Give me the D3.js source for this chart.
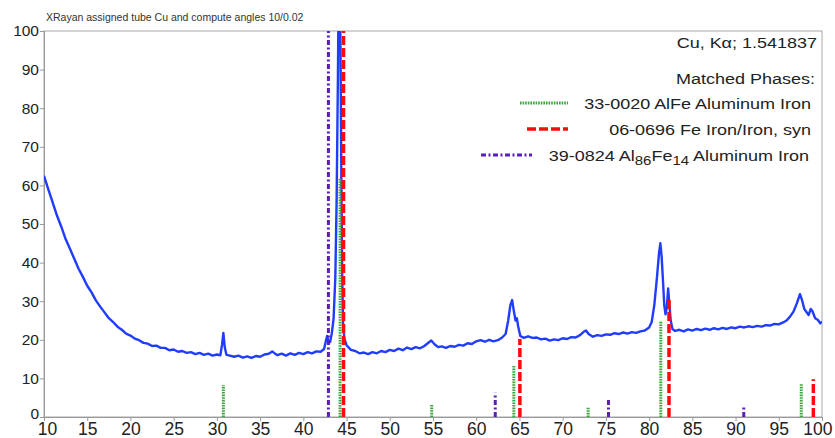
<!DOCTYPE html>
<html>
<head>
<meta charset="utf-8">
<script src="https://cdn.jsdelivr.net/npm/d3@7"></script>
<style>
  body { margin: 0; background: #fff; }
  text { font-family: "Liberation Sans", Arial, sans-serif; }
</style>
</head>
<body>
<svg id="graph" width="835" height="438"></svg>
<script>
// patron medido (2theta, intensidad)
const twoTheta = [10.0,10.5,11.0,11.5,12.0,12.5,13.0,13.5,14.0,14.5,15.0,15.5,16.0,16.5,17.0,17.5,18.0,18.5,19.0,19.5,
  20.0,20.5,21.0,21.5,22.0,22.5,23.0,23.5,24.0,24.5,25.0,25.5,26.0,26.5,27.0,27.5,28.0,28.5,29.0,29.5,
  30.0,30.4,30.6,30.75,30.9,31.1,31.5,32.0,32.5,33.0,33.5,34.0,34.5,35.0,35.5,36.0,36.4,36.8,37.0,37.5,
  38.0,38.5,39.0,39.5,40.0,40.5,41.0,41.5,42.0,42.4,42.6,42.75,42.9,43.1,43.3,43.5,43.7,43.85,44.0,44.1,
  44.2,44.3,44.4,44.5,44.6,44.75,45.0,45.5,46.0,46.5,47.0,47.5,48.0,48.5,49.0,49.5,50.0,50.5,51.0,51.5,
  52.0,52.5,53.0,53.5,54.0,54.5,54.8,55.2,55.6,56.0,56.5,57.0,57.5,58.0,58.5,59.0,59.5,60.0,60.5,61.0,
  61.5,62.0,62.5,63.0,63.4,63.7,63.95,64.15,64.35,64.55,64.7,64.85,65.1,65.5,66.0,66.5,67.0,67.5,68.0,68.5,
  69.0,69.5,70.0,70.5,71.0,71.5,72.0,72.4,72.7,73.0,73.5,74.0,74.5,75.0,75.5,76.0,76.5,77.0,77.5,78.0,
  78.5,79.0,79.5,80.0,80.3,80.6,80.9,81.15,81.3,81.45,81.6,81.75,81.9,82.05,82.2,82.35,82.5,82.7,83.0,83.5,
  84.0,84.5,85.0,85.5,86.0,86.5,87.0,87.5,88.0,88.5,89.0,89.5,90.0,90.5,91.0,91.5,92.0,92.5,93.0,93.5,
  94.0,94.5,95.0,95.5,95.9,96.3,96.7,97.1,97.45,97.7,97.95,98.2,98.45,98.7,98.9,99.2,99.5,99.8,100.0];
const intensity = [62.5,59.0,55.6,52.2,49.3,46.1,43.6,41.0,38.4,36.3,34.0,32.3,30.2,28.6,27.1,25.6,24.6,23.4,22.6,21.6,
  21.1,20.3,19.9,19.2,19.0,18.4,18.5,17.9,17.9,17.3,17.5,16.9,17.1,16.6,16.8,16.3,16.6,16.1,16.4,15.9,
  16.2,16.0,18.8,21.8,18.2,16.1,15.9,15.6,15.9,15.4,15.7,15.3,15.8,15.6,16.2,16.4,17.0,16.3,16.0,16.4,
  15.9,16.5,16.1,16.6,16.3,16.8,16.5,17.0,16.9,17.6,19.6,21.0,19.6,19.4,21.8,25.5,36,56,88,115,
  118,95,62,36,24,20.3,18.6,17.4,17.1,16.5,16.7,16.3,16.8,16.5,17.1,16.8,17.4,17.1,17.7,17.3,
  18.0,17.6,18.1,17.8,18.4,19.3,19.8,18.8,18.1,18.3,17.9,18.4,18.2,18.7,18.5,19.1,18.9,19.6,19.9,19.5,
  20.0,19.6,19.9,20.6,21.5,25,29,30.3,27.5,25.0,25.6,23.5,21.0,20.5,20.9,20.5,20.6,20.1,20.3,19.8,
  20.1,19.9,20.4,20.2,20.7,20.6,21.2,22.0,22.4,21.5,20.8,21.2,21.0,21.4,21.3,21.7,21.5,21.9,21.6,22.0,
  21.8,22.2,22.4,23.2,24.6,29,36,42.5,45.0,41.5,35.5,29,26.6,28.5,33.3,29,25.0,22.8,22.3,22.6,
  22.2,22.7,22.4,22.8,22.5,22.9,22.6,23.0,22.7,23.1,22.8,23.2,23.0,23.4,23.2,23.5,23.3,23.6,23.4,23.8,
  23.7,24.1,24.0,24.5,25.0,26.0,27.3,29.5,31.8,30.2,28.0,27.2,26.4,28.0,27.4,25.6,25.2,24.3,24.7];

// fases identificadas (posicion, intensidad relativa)
const alfePos = [30.75, 44.25, 54.85, 64.35, 72.95, 81.35, 97.6];
const alfeInt = [8.3, 62, 3.1, 13.5, 2.4, 24.9, 8.5];
const fePos = [44.65, 65.05, 82.3, 99.0];
const feInt = [100, 20.2, 30.5, 9.8];
const al86Pos = [42.9, 62.2, 75.3, 90.95];
const al86Int = [100, 6.3, 5.0, 2.7];

const xTicks = d3.range(10, 101, 5);
const yTicks = d3.range(0, 101, 10);

const phases = [
    { pos: alfePos, inten: alfeInt, color: "#3aa63a", width: 3, dash: "1.6,1" },
    { pos: fePos, inten: feInt, color: "#ff0a0a", width: 3.5, dash: "9,3" },
    { pos: al86Pos, inten: al86Int, color: "#5a1fb4", width: 3, dash: "5,2.5,2,2.5" }
];

let svg = d3.select("#graph");
var margin = { top: 31, right: 13, bottom: 21, left: 44 };
var width = +svg.attr("width") - margin.left - margin.right;
var height = +svg.attr("height") - margin.top - margin.bottom;
var g = svg.append("g").attr("transform", "translate(" + margin.left + "," + margin.top + ")");

var x = d3.scaleLinear().domain([10, 100]).range([0, width]);
var y = d3.scaleLinear().domain([0, 100]).range([height, 0]);

svg.append("defs").append("clipPath").attr("id", "area")
    .append("rect").attr("width", width).attr("height", height);

// marco
g.append("rect")
    .attr("width", width).attr("height", height)
    .attr("fill", "none").attr("stroke", "#a8a8a8").attr("stroke-width", 1);

// ejes
let xAxis = g.append("g")
    .attr("transform", "translate(0," + height + ")")
    .call(d3.axisBottom(x).tickValues(xTicks).tickSize(4).tickPadding(2).tickFormat(d3.format("d")));
xAxis.selectAll("text").style("font-size", "17.5px").attr("fill", "#222");
xAxis.selectAll("text").filter(d => d === 100).attr("text-anchor", "end").attr("dx", "10");
xAxis.selectAll("text").filter(d => d === 10).attr("dx", "3");

let yAxis = g.append("g")
    .call(d3.axisLeft(y).tickValues(yTicks).tickSize(4).tickPadding(1));
yAxis.selectAll("text").style("font-size", "15.5px").attr("fill", "#222");
yAxis.selectAll("text").filter(d => d === 0).attr("y", -3);

g.selectAll(".domain, .tick line").attr("stroke", "#999");

// curva
let pts = twoTheta.map((t, i) => [t, intensity[i]]);
let line = d3.line().x(d => x(d[0])).y(d => y(d[1]));
g.append("path")
    .datum(pts)
    .attr("clip-path", "url(#area)")
    .attr("d", line)
    .attr("fill", "none")
    .attr("stroke", "#1f3cff")
    .attr("stroke-width", 2.4)
    .attr("stroke-linejoin", "round");

// lineas de referencia
phases.forEach(p => {
    g.append("g").attr("clip-path", "url(#area)")
        .selectAll("line")
        .data(p.pos.map((v, i) => [v, p.inten[i]]))
        .enter().append("line")
        .attr("x1", d => x(d[0])).attr("x2", d => x(d[0]))
        .attr("y1", y(0)).attr("y2", d => y(d[1]))
        .attr("stroke", p.color)
        .attr("stroke-width", p.width)
        .attr("stroke-dasharray", p.dash);
});

// titulo
svg.append("text")
    .attr("x", 46).attr("y", 21)
    .style("font-size", "10.5px")
    .attr("fill", "#333")
    .text("XRayan assigned tube Cu and compute angles 10/0.02");

// textos con estiramiento horizontal
function label(xp, yp, size) {
    return svg.append("text")
        .attr("transform", "translate(" + xp + "," + yp + ") scale(1.2,1)")
        .attr("text-anchor", "end")
        .style("font-size", size + "px")
        .attr("fill", "#222");
}
label(817, 48, 15).text("Cu, K\u03b1; 1.541837");
label(815, 84, 15).text("Matched Phases:");
label(811, 109, 15).text("33-0020 AlFe Aluminum Iron");
label(811, 135, 15).text("06-0696 Fe Iron/Iron, syn");
let t3 = label(809, 161, 15);
t3.append("tspan").text("39-0824 Al");
t3.append("tspan").attr("dy", 4).style("font-size", "12.5px").text("86");
t3.append("tspan").attr("dy", -4).text("Fe");
t3.append("tspan").attr("dy", 4).style("font-size", "12.5px").text("14");
t3.append("tspan").attr("dy", -4).text(" Aluminum Iron");

// muestras de la leyenda
const legendY = [103, 129, 155];
const legendX = [[520, 568], [527, 568], [481, 532]];
phases.forEach((p, i) => {
    svg.append("line")
        .attr("x1", legendX[i][0]).attr("x2", legendX[i][1])
        .attr("y1", legendY[i]).attr("y2", legendY[i])
        .attr("stroke", p.color)
        .attr("stroke-width", p.width)
        .attr("stroke-dasharray", p.dash);
});
</script>
</body>
</html>
